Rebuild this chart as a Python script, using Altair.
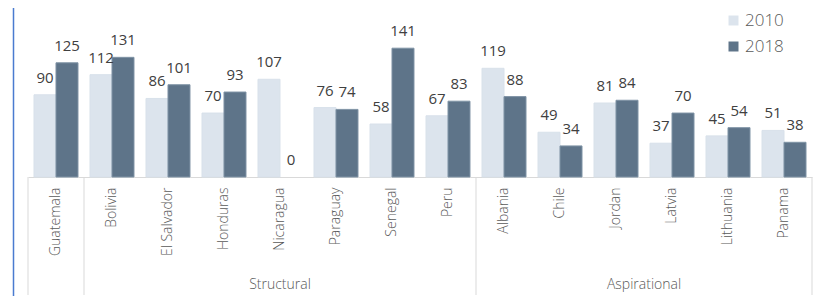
import altair as alt
import pandas as pd

countries = ["Guatemala", "Bolivia", "El Salvador", "Honduras", "Nicaragua", "Paraguay",
             "Senegal", "Peru", "Albania", "Chile", "Jordan", "Latvia", "Lithuania", "Panama"]
groups = ["", "Structural", "Structural", "Structural", "Structural", "Structural",
          "Structural", "Structural", "Aspirational", "Aspirational", "Aspirational",
          "Aspirational", "Aspirational", "Aspirational"]
years = ["2010", "2018"]
v2010 = [90, 112, 86, 70, 107, 76, 58, 67, 119, 49, 81, 37, 45, 51]
v2018 = [125, 131, 101, 93, 0, 74, 141, 83, 88, 34, 84, 70, 54, 38]

rows = []
for c, a, b in zip(countries, v2010, v2018):
    rows.append({"country": c, "year": "2010", "value": a})
    rows.append({"country": c, "year": "2018", "value": b})
df = pd.DataFrame(rows)

# group boundaries (category index positions) and group centers
bounds = [0]
for i in range(1, len(groups)):
    if groups[i] != groups[i - 1]:
        bounds.append(i)
bounds.append(len(groups))
sep_df = pd.DataFrame({"pos": bounds})
grp_rows = []
for s, e in zip(bounds[:-1], bounds[1:]):
    if groups[s]:
        grp_rows.append({"name": groups[s], "center": (s + e) / 2})
grp_df = pd.DataFrame(grp_rows)

FONT = "Open Sans"
FW = 300
x_band = alt.X("country:N", sort=countries,
               scale=alt.Scale(paddingInner=0.2143, paddingOuter=0.1071),
               axis=alt.Axis(title=None, labelAngle=270, labelAlign="right",
                             labelBaseline="middle", labelPadding=10, ticks=False,
                             labelFontSize=14, labelColor="#595959", labelFont=FONT,
                             labelFontWeight=FW,
                             domainColor="#D9D9D9", domainWidth=1))
x_off = alt.XOffset("year:N", scale=alt.Scale(domain=years, paddingInner=0, paddingOuter=0))
y_enc = alt.Y("value:Q", scale=alt.Scale(domain=[0, 185], nice=False), axis=None)

bars = alt.Chart(df).mark_bar(strokeWidth=1).encode(
    x=x_band, xOffset=x_off, y=y_enc,
    color=alt.Color("year:N", scale=alt.Scale(domain=years, range=["#DCE4ED", "#5E7489"]),
                    legend=alt.Legend(title=None, orient="none", legendX=697, legendY=4,
                                      symbolType="square", symbolSize=100,
                                      symbolStrokeWidth=0, labelFontSize=17,
                                      labelFontWeight=FW,
                                      labelColor="#595959", labelFont=FONT,
                                      rowPadding=8, labelOffset=3)),
    stroke=alt.Stroke("year:N", scale=alt.Scale(domain=years, range=["#D8E1EA", "#7F93A5"]),
                      legend=None),
    strokeOpacity=alt.condition("datum.value > 0", alt.value(1), alt.value(0)),
)

labels = alt.Chart(df).mark_text(dy=-12, baseline="alphabetic", fontSize=15,
                                 fontWeight=400, color="#404040", font=FONT).encode(
    x=x_band, xOffset=x_off, y=y_enc, text="value:Q")

base_layer = alt.layer(bars, labels)

xq = alt.X("pos:Q", scale=alt.Scale(domain=[0, len(countries)], nice=False, zero=False), axis=None)
seps = alt.Chart(sep_df).mark_rule(color="#D9D9D9", strokeWidth=1).encode(
    x=xq, y=alt.value(169), y2=alt.value(287))

grp_labels = alt.Chart(grp_df).mark_text(fontSize=14, color="#595959", font=FONT,
                                         fontWeight=FW, baseline="middle").encode(
    x=alt.X("center:Q", scale=alt.Scale(domain=[0, len(countries)], nice=False, zero=False),
            axis=None),
    y=alt.value(277), text="name:N")

border = alt.Chart(sep_df.head(1)).mark_rule(color="#4A7BD0", strokeWidth=1.5).encode(
    x=alt.value(-14.5), y=alt.value(-8), y2=alt.value(290))

overlay = alt.layer(seps, grp_labels, border)

chart = alt.layer(base_layer, overlay).resolve_scale(x="independent").properties(
    width=784, height=169,
    autosize=alt.AutoSizeParams(type="none"),
    padding={"left": 20, "top": 0, "right": 1, "bottom": 119},
).configure_view(stroke=None)

chart.save("out.html", embed_options={"renderer": "svg", "actions": False})
